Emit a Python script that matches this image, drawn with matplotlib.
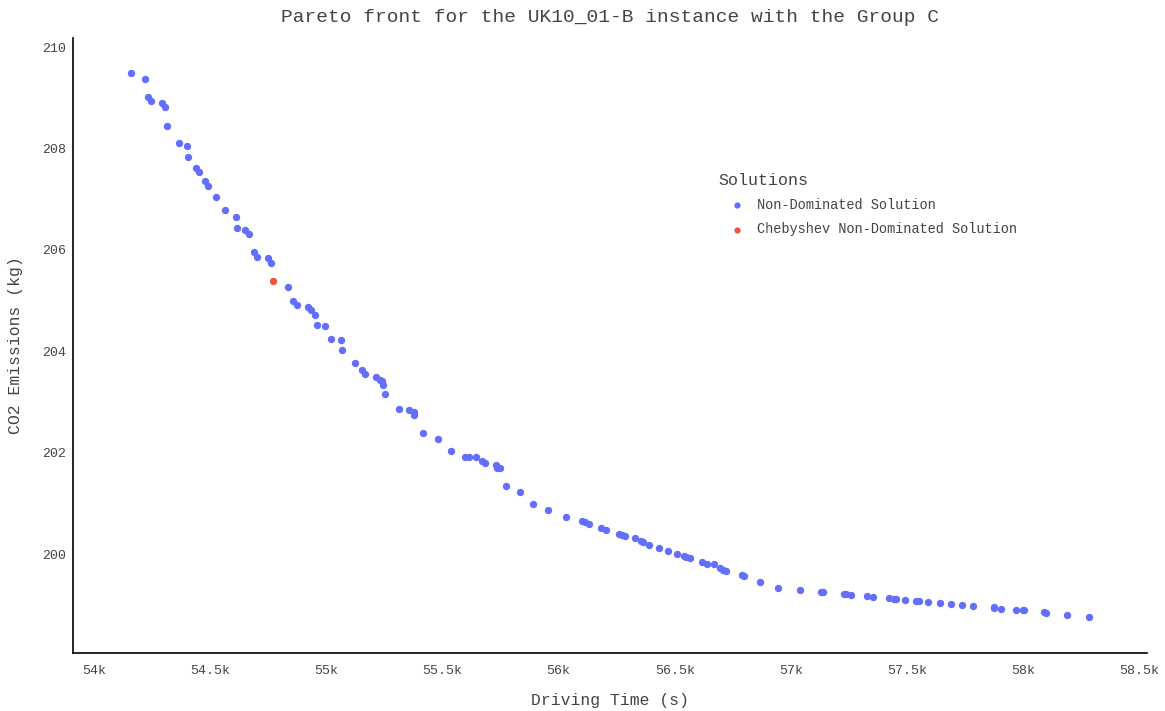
import matplotlib
matplotlib.use("Agg")
import matplotlib.pyplot as plt
from matplotlib.ticker import FuncFormatter

plt.rcParams['font.family'] = ['Liberation Mono', 'DejaVu Sans Mono']

# Non-dominated solutions (driving time in s, CO2 emissions in kg)
nd_time = [54158, 54221, 54231, 54244, 54294, 54307, 54315, 54366, 54401, 54407,
           54438, 54452, 54478, 54492, 54524, 54564, 54610, 54615, 54651, 54666,
           54687, 54701, 54750, 54763, 54835, 54859, 54874, 54921, 54935, 54950,
           54960, 54995, 55021, 55062, 55067, 55122, 55153, 55167, 55213, 55231,
           55241, 55245, 55253, 55315, 55357, 55376, 55378, 55416, 55479, 55537,
           55598, 55615, 55645, 55671, 55682, 55730, 55734, 55748, 55772, 55833,
           55892, 55955, 56034, 56103, 56114, 56129, 56183, 56204, 56260, 56275,
           56286, 56327, 56355, 56364, 56389, 56434, 56470, 56510, 56538, 56550,
           56565, 56619, 56641, 56668, 56694, 56710, 56720, 56790, 56797, 56869,
           56946, 57041, 57131, 57140, 57230, 57239, 57257, 57328, 57355, 57424,
           57444, 57454, 57493, 57540, 57551, 57590, 57642, 57689, 57736, 57784,
           57873, 57876, 57903, 57970, 57999, 58005, 58089, 58098, 58188, 58284]
nd_co2 = [209.49, 209.37, 209.01, 208.93, 208.90, 208.81, 208.44, 208.10, 208.05, 207.83,
          207.62, 207.53, 207.36, 207.26, 207.05, 206.79, 206.65, 206.44, 206.39, 206.32,
          205.96, 205.87, 205.84, 205.75, 205.27, 204.99, 204.92, 204.87, 204.81, 204.71,
          204.52, 204.50, 204.24, 204.22, 204.02, 203.77, 203.63, 203.55, 203.50, 203.44,
          203.41, 203.34, 203.15, 202.86, 202.84, 202.80, 202.74, 202.39, 202.27, 202.04,
          201.92, 201.92, 201.92, 201.83, 201.79, 201.75, 201.69, 201.69, 201.35, 201.23,
          200.99, 200.87, 200.74, 200.65, 200.63, 200.60, 200.52, 200.48, 200.40, 200.37,
          200.35, 200.32, 200.25, 200.24, 200.19, 200.13, 200.07, 200.01, 199.96, 199.95,
          199.92, 199.84, 199.80, 199.80, 199.72, 199.68, 199.67, 199.58, 199.56, 199.45,
          199.33, 199.29, 199.25, 199.25, 199.21, 199.21, 199.20, 199.17, 199.15, 199.13,
          199.11, 199.11, 199.10, 199.07, 199.07, 199.05, 199.03, 199.01, 198.99, 198.97,
          198.96, 198.93, 198.92, 198.90, 198.89, 198.89, 198.85, 198.84, 198.80, 198.76]

# Chebyshev non-dominated solution
cheb_time = [54772]
cheb_co2 = [205.39]

x_ticks = [54000, 54500, 55000, 55500, 56000, 56500, 57000, 57500, 58000, 58500]
y_ticks = [200, 202, 204, 206, 208, 210]

BLUE = '#636EFA'
RED = '#EF553B'
TXT = '#444444'

fig = plt.figure(figsize=(11.65, 7.11), dpi=100)
ax = fig.add_axes([73 / 1165, 1 - 653 / 711, (1147 - 73) / 1165, (653 - 38) / 711])

ax.scatter(nd_time, nd_co2, s=28, color=BLUE, linewidths=0, label='Non-Dominated Solution', zorder=3)
ax.scatter(cheb_time, cheb_co2, s=28, color=RED, linewidths=0, label='Chebyshev Non-Dominated Solution', zorder=4)

ax.set_xlim(53910, 58533)
ax.set_ylim(198.05, 210.18)
ax.set_xticks(x_ticks)
ax.set_yticks(y_ticks)
ax.xaxis.set_major_formatter(FuncFormatter(lambda v, p: f"{v/1000:g}k"))
ax.tick_params(axis='both', length=0, labelsize=9.5, labelcolor=TXT)
ax.tick_params(axis='x', pad=9)
ax.tick_params(axis='y', pad=5)

for s in ['top', 'right']:
    ax.spines[s].set_visible(False)
for s in ['left', 'bottom']:
    ax.spines[s].set_color('black')
    ax.spines[s].set_linewidth(1.2)

fig.text(610 / 1165, 1 - 18 / 711, 'Pareto front for the UK10_01-B instance with the Group C',
         ha='center', va='center', fontsize=14, color=TXT)
fig.text(610 / 1165, 1 - 701 / 711, 'Driving Time (s)', ha='center', va='center',
         fontsize=11.8, color=TXT)
fig.text(16 / 1165, 1 - 345 / 711, 'CO2 Emissions (kg)', ha='center', va='center',
         rotation=90, fontsize=11.8, color=TXT)

leg = ax.legend(title='Solutions', loc='upper left',
                bbox_to_anchor=(718 / 1165, 1 - 173 / 711), bbox_transform=fig.transFigure,
                frameon=False, fontsize=9.8, title_fontsize=12,
                handlelength=2.8, handletextpad=0.1, labelspacing=0.78,
                borderpad=0, borderaxespad=0, alignment='left', markerscale=0.85)
leg._legend_box.sep = 7
leg.get_title().set_color(TXT)
for t in leg.get_texts():
    t.set_color(TXT)

fig.savefig('out.png', dpi=100)
